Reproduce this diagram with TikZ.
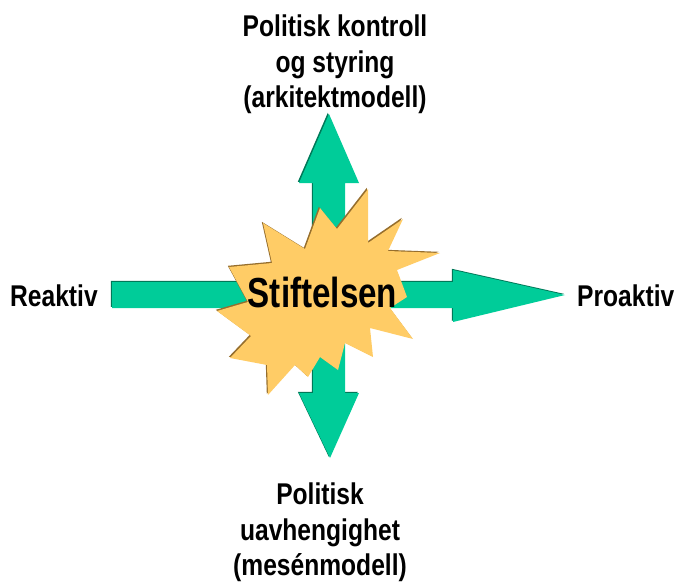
\documentclass[tikz,border=0pt]{standalone}
\usepackage{fontspec}
\setmainfont{Liberation Sans}[FakeStretch=0.79]
\newfontfamily\labelfont{Liberation Sans}[FakeStretch=0.82]
\definecolor{arrowgreen}{RGB}{0,204,153}
\definecolor{arrowshade}{RGB}{0,120,88}
\definecolor{starfill}{RGB}{255,204,102}
\definecolor{starshade}{RGB}{150,110,45}
\tikzset{
  blockarrow/.style={fill=arrowgreen, draw=none},
  arrowshadow/.style={fill=arrowshade, draw=none},
  burst/.style={fill=starfill, draw=none},
  burstshadow/.style={fill=starshade, draw=none},
  label/.style={font=\labelfont\bfseries\fontsize{30}{35.5}\selectfont, inner sep=0pt, align=center},
  title/.style={font=\bfseries\fontsize{42}{48}\selectfont, inner sep=0pt}
}
\begin{document}
\begin{tikzpicture}[x=1pt, y=-1pt]
  \useasboundingbox (0,0) rectangle (674,581);

  % vertical double-headed block arrow
  \def\vpath{(329,114) -- (359,183) -- (345,183) -- (345,393) -- (359,393) -- (330,458)
    -- (299,393) -- (313,393) -- (313,183) -- (299,183) -- cycle}
  \fill[arrowshadow, xshift=-1.2pt, yshift=1.2pt] \vpath;
  \fill[blockarrow] \vpath;

  % horizontal block arrow pointing right
  \def\hpath{(112,282) -- (453,282) -- (453,270) -- (565,295) -- (453,322)
    -- (453,308) -- (112,308) -- cycle}
  \fill[arrowshadow, xshift=-1.2pt, yshift=1.2pt] \hpath;
  \fill[blockarrow] \hpath;

  % explosion burst in the centre
  \def\spath{(320,208) -- (337,229) -- (368,189) -- (368,243) -- (403,219) -- (388,251)
    -- (440,253) -- (397,270) -- (407,297) -- (390,308) -- (413,339) -- (370,328)
    -- (373,357) -- (345,343) -- (338,370) -- (320,357) -- (308,377) -- (295,365)
    -- (268,395) -- (267,365) -- (230,358) -- (251,336) -- (217,311) -- (248,302)
    -- (229,267) -- (272,263) -- (263,223) -- (305,249) -- cycle}
  \fill[burstshadow, xshift=-1.2pt, yshift=1.2pt] \spath;
  \fill[burst] \spath;

  % texts
  \node[title, anchor=base] (center) at (322.5,307) {Stiftelsen};
  \node[label, anchor=base west] (left) at (10,306) {Reaktiv};
  \node[label, anchor=base west] (right) at (577,306) {Proaktiv};
  \node[label, anchor=north] (top) at (335,15) {Politisk kontroll\\og styring\\(arkitektmodell)};
  \node[label, anchor=north] (bottom) at (320,483) {Politisk\\uavhengighet\\(mesénmodell)};
\end{tikzpicture}
\end{document}
